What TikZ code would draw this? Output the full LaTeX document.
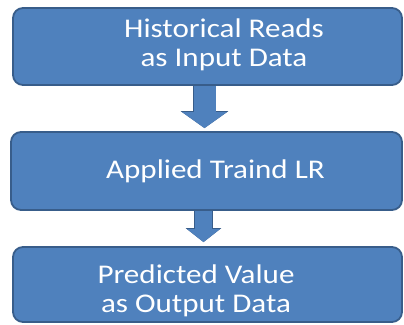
\documentclass[tikz,border=0pt]{standalone}
\usepackage{fontspec}
\setmainfont[FakeStretch=1.15]{Carlito}
\usetikzlibrary{arrows.meta}
\definecolor{flowfill}{RGB}{79,129,189}
\definecolor{flowedge}{RGB}{56,93,138}

\begin{document}
\begin{tikzpicture}[
    x=1pt, y=-1pt,
    stage/.style={draw=flowedge, fill=flowfill, line width=1.8pt, rounded corners=10pt, inner sep=0pt},
    txt/.style={text=white, align=center, font=\fontsize{27}{29}\selectfont},
    bigdown/.style={draw=flowfill, line width=22pt, shorten >=3pt,
      -{Triangle[length=16pt,width=44pt]},
      preaction={draw=flowedge, line width=23.5pt, -{Triangle[length=17pt,width=47pt]}}},
    smalldown/.style={draw=flowfill, line width=17pt, shorten >=4pt,
      -{Triangle[length=13pt,width=32pt]},
      preaction={draw=flowedge, line width=18.5pt, -{Triangle[length=14pt,width=35pt]}}},
  ]
  \useasboundingbox (0,0) rectangle (404,324);

  %% the three stages
  \node[stage, minimum width=389pt, minimum height=77pt] (hist) at (207.5,46.5) {};
  \node[stage, minimum width=391pt, minimum height=78pt] (lr)   at (206.5,171)  {};
  \node[stage, minimum width=389pt, minimum height=75pt] (pred) at (207.5,284.5) {};

  \node[txt] (histtxt) at (224,44.5) {Historical Reads\\as Input Data};
  \node[txt] (lrtxt)   at (215.5,171) {Applied Traind LR};
  \node[txt] (predtxt) at (196,291) {Predicted Value\\as Output Data};

  %% block arrows between the stages
  \coordinate (a1) at ([xshift=-3pt]hist.south);
  \coordinate (b1) at (a1 |- lr.north);
  \draw[bigdown] (a1) -- (b1);
  \coordinate (a2) at ([xshift=-3pt]lr.south);
  \coordinate (b2) at (a2 |- pred.north);
  \draw[smalldown] (a2) -- (b2);

\end{tikzpicture}
\end{document}
